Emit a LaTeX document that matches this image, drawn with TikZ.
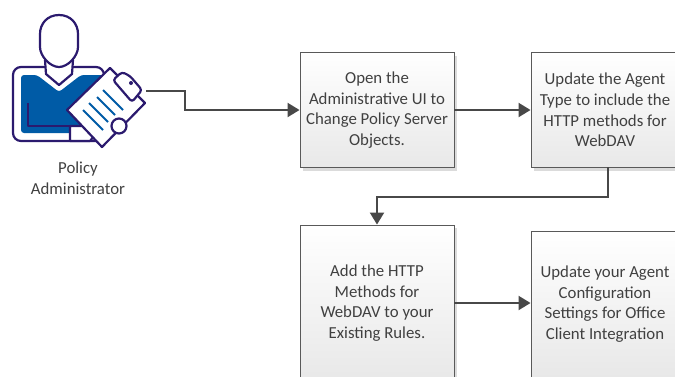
\documentclass[tikz,border=0pt]{standalone}
\usepackage{fontspec}
\setmainfont{Carlito}
\usetikzlibrary{arrows.meta,shadows}
\definecolor{inkpurple}{HTML}{2B1A6E}
\definecolor{adminblue}{HTML}{005BA6}
\definecolor{linkgray}{HTML}{484848}
\definecolor{textgray}{HTML}{404040}
\tikzstyle{stepbox}=[draw=black!65,line width=0.9pt,top color=white,bottom color=black!9,text=textgray,font=\fontsize{16.8}{20.6}\selectfont,align=center,inner sep=0pt,drop shadow={shadow xshift=3pt,shadow yshift=-3pt,fill=black!35,opacity=0.4}]
\tikzstyle{link}=[draw=linkgray,line width=2.1pt,-{Triangle[length=12pt,width=14pt]}]
\tikzstyle{ink}=[draw=inkpurple,line width=2.2pt,line join=round]
\begin{document}
\begin{tikzpicture}[x=1pt,y=-1pt]
    \useasboundingbox (0,0) rectangle (675,376);
    % The four steps
    \node[stepbox,minimum width=154pt,minimum height=115pt] (open) at (377,110) {Open the\\Administrative UI to\\Change Policy Server\\Objects.};
    \node[stepbox,minimum width=148pt,minimum height=115pt] (type) at (605,110) {Update the Agent\\Type to include the\\HTTP methods for\\WebDAV};
    \node[stepbox,minimum width=154pt,minimum height=156pt] (rules) at (377,303) {Add the HTTP\\Methods for\\WebDAV to your\\Existing Rules.};
    \node[stepbox,minimum width=148pt,minimum height=146pt] (office) at (605,304) {Update your Agent\\Configuration\\Settings for Office\\Client Integration};
    % The administrator
    \draw[ink,fill=white,rounded corners=8pt] (13,67) -- (13,141) -- (104,141) -- (104,67) -- cycle;
    \fill[adminblue,rounded corners=3pt] (21,75) -- (37,75) -- (59,92) -- (81,75) -- (104,75) -- (104,133) -- (21,133) -- cycle;
    \draw[ink] (28,103) -- (28,126) -- (70,126);
    \draw[ink,fill=white] (70,126) -- (90,126) .. controls (95,130) and (95,137) .. (90,141) -- (70,141) -- cycle;
    \draw[ink,fill=white] (45,60) -- (46,74) -- (59,85) -- (72,74) -- (73,60) -- cycle;
    \draw[ink,fill=white] (59,15) .. controls (47,15) and (40,24) .. (40,34) -- (40,47) .. controls (40,56) and (50,67) .. (59,67) .. controls (68,67) and (78,56) .. (78,47) -- (78,34) .. controls (78,24) and (71,15) .. (59,15) -- cycle;
    % Clipboard
    \draw[ink,fill=white] (110,68) -- (145,103) -- (102,147) -- (67,110) -- cycle;
    \draw[ink,fill=white,rounded corners=3pt] (113,80) -- (122,72) -- (130,76) -- (142,90) -- (132,102) -- cycle;
    \draw[ink,fill=white] (119,126) circle (7.5pt);
    \fill[inkpurple] (131,83) circle (2pt);
    \foreach \xa/\ya/\xb/\yb in {103/90/123/110, 97/97/115/115, 89/103/108/122, 83/110/103/130}
        \draw[adminblue,line width=1.9pt] (\xa,\ya) -- (\xb,\yb);
    \node[text=textgray,font=\fontsize{16.8}{20.6}\selectfont,align=center] (admin) at (78,178) {Policy\\Administrator};
    % Connect the steps
    \coordinate (iconout) at (146,91);
    \coordinate (typeout) at (608,167);
    \coordinate (turna) at (608,197);
    \coordinate (turnb) at (377,197);
    \path[link] (iconout) -- (185,91) -- (185,110) -- (open.west);
    \path[link] (open) -- (type);
    \path[link] (typeout) -- (turna) -- (turnb) -- (rules.north);
    \path[link] (rules.east) -- (rules.east -| office.west);
\end{tikzpicture}
\end{document}
